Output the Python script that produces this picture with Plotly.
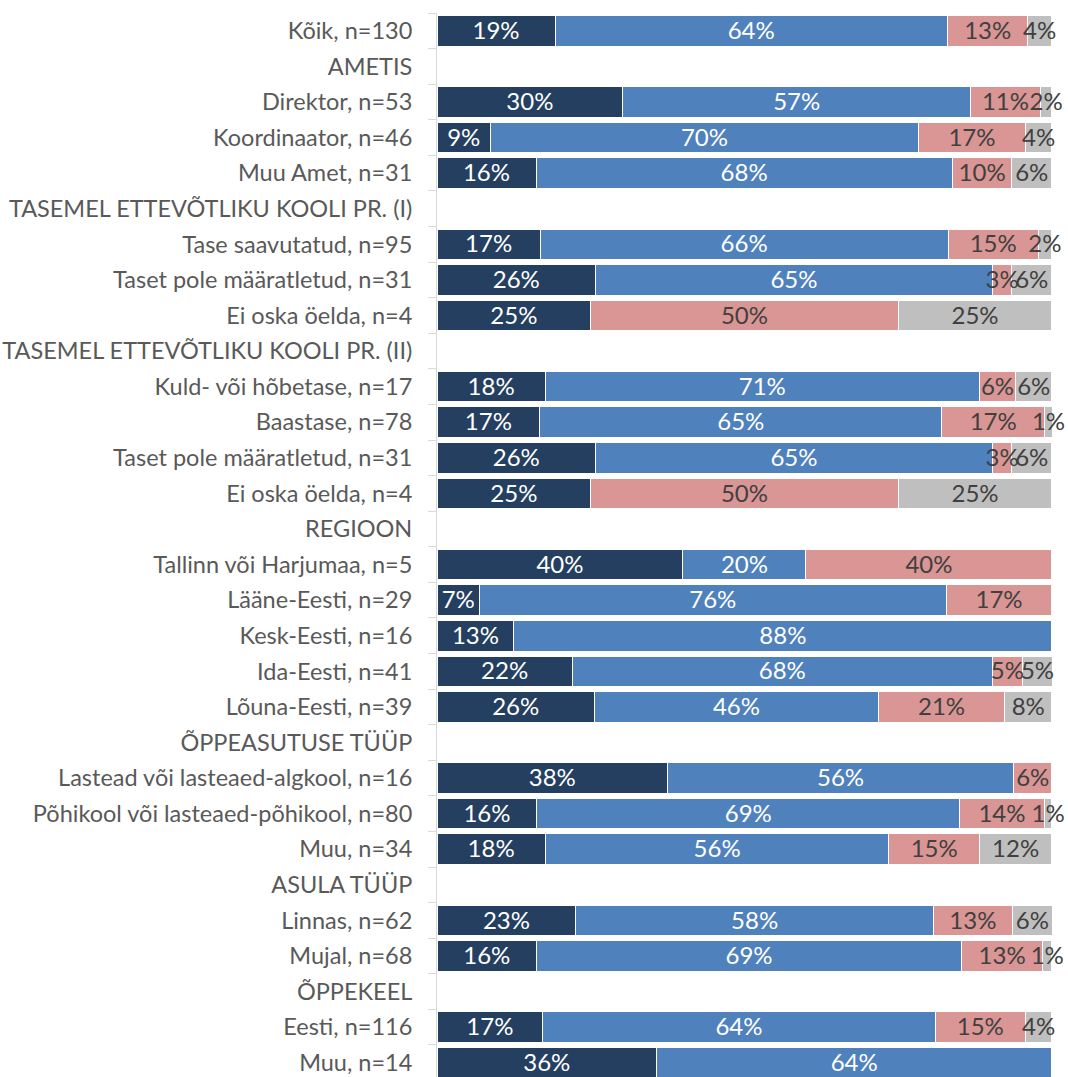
import math
import plotly.graph_objects as go

labels = [
    "Kõik, n=130",
    "AMETIS",
    "Direktor, n=53",
    "Koordinaator, n=46",
    "Muu Amet, n=31",
    "TASEMEL ETTEVÕTLIKU KOOLI PR. (I)",
    "Tase saavutatud, n=95",
    "Taset pole määratletud, n=31",
    "Ei oska öelda, n=4",
    "TASEMEL ETTEVÕTLIKU KOOLI PR. (II)",
    "Kuld- või hõbetase, n=17",
    "Baastase, n=78",
    "Taset pole määratletud, n=31",
    "Ei oska öelda, n=4",
    "REGIOON",
    "Tallinn või Harjumaa, n=5",
    "Lääne-Eesti, n=29",
    "Kesk-Eesti, n=16",
    "Ida-Eesti, n=41",
    "Lõuna-Eesti, n=39",
    "ÕPPEASUTUSE TÜÜP",
    "Lastead või lasteaed-algkool, n=16",
    "Põhikool või lasteaed-põhikool, n=80",
    "Muu, n=34",
    "ASULA TÜÜP",
    "Linnas, n=62",
    "Mujal, n=68",
    "ÕPPEKEEL",
    "Eesti, n=116",
    "Muu, n=14",
]

series_1 = [19.2, None, 30.2, 8.7, 16.1, None, 16.8, 25.8, 25.0, None, 17.6, 16.7, 25.8, 25.0,
            None, 40.0, 6.9, 12.5, 22.0, 25.6, None, 37.5, 16.25, 17.6, None, 22.6, 16.2, None, 17.2, 35.7]
series_2 = [63.8, None, 56.6, 69.6, 67.7, None, 66.3, 64.5, 0.0, None, 70.6, 65.4, 64.5, 0.0,
            None, 20.0, 75.9, 87.5, 68.3, 46.2, None, 56.25, 68.75, 55.9, None, 58.1, 69.1, None, 63.8, 64.3]
series_3 = [13.1, None, 11.3, 17.4, 9.7, None, 14.7, 3.2, 50.0, None, 5.9, 16.7, 3.2, 50.0,
            None, 40.0, 17.2, 0.0, 4.9, 20.5, None, 6.25, 13.75, 14.7, None, 12.9, 13.2, None, 14.7, 0.0]
series_4 = [3.8, None, 1.9, 4.3, 6.45, None, 2.1, 6.45, 25.0, None, 5.9, 1.3, 6.45, 25.0,
            None, 0.0, 0.0, 0.0, 4.9, 7.7, None, 0.0, 1.25, 11.8, None, 6.45, 1.47, None, 4.3, 0.0]

series_names = ["Väga hea", "Hea", "Halb", "Ei oska öelda"]
series_colors = ["#243F60", "#4F81BD", "#D99694", "#BFBFBF"]
text_colors = ["#FFFFFF", "#FFFFFF", "#404040", "#404040"]

positions = list(range(len(labels)))
all_series = [series_1, series_2, series_3, series_4]
label_drop = 0.06  # small downward nudge of data labels (in category units)


def pct_text(v):
    if v is None or v == 0:
        return ""
    return f"{math.floor(v + 0.5)}%"


fig = go.Figure()

# bars
for name, vals, col in zip(series_names, all_series, series_colors):
    fig.add_trace(go.Bar(
        name=name,
        y=positions,
        x=vals,
        orientation="h",
        marker=dict(color=col, line=dict(color="#FFFFFF", width=1)),
        hoverinfo="skip",
    ))

# data labels drawn above all bars (centred in each segment)
base = [0.0] * len(labels)
for name, vals, tcol in zip(series_names, all_series, text_colors):
    xs, ys, ts = [], [], []
    for i, v in enumerate(vals):
        if v is None:
            continue
        if v > 0:
            xs.append(base[i] + v / 2.0)
            ys.append(positions[i] + label_drop)
            ts.append(pct_text(v))
        base[i] += v
    fig.add_trace(go.Scatter(
        x=xs, y=ys, text=ts, mode="text",
        textposition="middle center",
        textfont=dict(color=tcol, size=24, family="Lato"),
        cliponaxis=False,
        hoverinfo="skip",
        showlegend=False,
    ))

fig.update_layout(
    width=1068,
    height=1077,
    barmode="stack",
    bargap=0.14,
    showlegend=False,
    plot_bgcolor="#FFFFFF",
    paper_bgcolor="#FFFFFF",
    font=dict(family="Lato", size=24, color="#595959"),
    margin=dict(l=437, r=13, t=13, b=0, pad=0, autoexpand=False),
)
fig.update_xaxes(
    range=[0, 100.5],
    visible=False,
    showgrid=False,
    zeroline=False,
    automargin=False,
)
fig.update_yaxes(
    range=[len(labels) - 0.6, -0.5],
    tickmode="array",
    tickvals=positions,
    ticktext=labels,
    ticks="",
    automargin=False,
    showgrid=False,
    zeroline=False,
    showline=True,
    linecolor="#D9D9D9",
    linewidth=1,
    ticklabelstandoff=19,
    tickfont=dict(family="Lato", size=23.5, color="#595959"),
    minor=dict(
        tickmode="array",
        tickvals=[p - 0.5 for p in range(len(labels) + 1)],
        ticks="outside",
        ticklen=8,
        tickcolor="#D9D9D9",
        tickwidth=1,
        showgrid=False,
    ),
)

fig.write_html(
    "out.html",
    config={"displayModeBar": False, "staticPlot": True},
    post_script="document.body.style.margin='0';document.body.style.overflow='hidden';",
)
